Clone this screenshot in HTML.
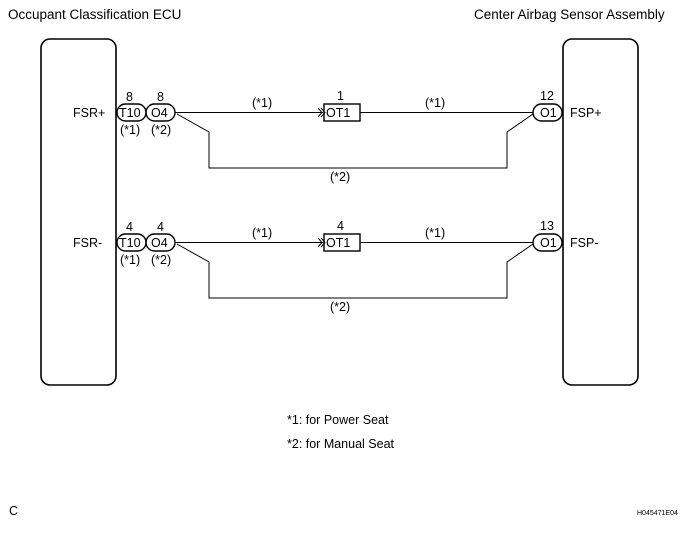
<!DOCTYPE html>
<html><head><style>
body{margin:0;background:#fff}
svg text{font-family:"Liberation Sans",sans-serif;fill:#000}
</style></head><body>
<svg width="685" height="528" viewBox="0 0 685 528" xmlns="http://www.w3.org/2000/svg">
<text x="8" y="19" font-size="13.5">Occupant Classification ECU</text>
<text x="474" y="19" font-size="13.5">Center Airbag Sensor Assembly</text>
<rect x="41" y="39" width="75" height="346" rx="9" fill="none" stroke="#000" stroke-width="1.6"/>
<rect x="563" y="39" width="75" height="346" rx="9" fill="none" stroke="#000" stroke-width="1.6"/>
<g font-size="12.5" stroke="none">
<text x="73" y="117">FSR+</text>
<text x="126" y="101">8</text><text x="157" y="101">8</text>
<rect x="117" y="104" width="29" height="17" rx="8.5" fill="none" stroke="#000" stroke-width="1.4"/>
<rect x="146" y="104" width="29" height="17" rx="8.5" fill="none" stroke="#000" stroke-width="1.4"/>
<text x="119" y="117">T10</text><text x="151" y="117">O4</text>
<text x="120" y="134">(*1)</text><text x="151" y="134">(*2)</text>
<text x="252" y="107">(*1)</text>
<text x="337" y="100">1</text>
<rect x="324" y="104" width="36" height="17" fill="none" stroke="#000" stroke-width="1.4"/>
<text x="326" y="117">OT1</text>
<text x="425" y="107">(*1)</text>
<text x="330" y="181">(*2)</text>
<text x="540" y="100">12</text>
<rect x="533" y="104" width="29" height="17" rx="8.5" fill="none" stroke="#000" stroke-width="1.4"/>
<text x="540" y="117">O1</text>
<text x="570" y="117">FSP+</text>
<text x="73" y="247">FSR-</text>
<text x="126" y="231">4</text><text x="157" y="231">4</text>
<rect x="117" y="234" width="29" height="17" rx="8.5" fill="none" stroke="#000" stroke-width="1.4"/>
<rect x="146" y="234" width="29" height="17" rx="8.5" fill="none" stroke="#000" stroke-width="1.4"/>
<text x="119" y="247">T10</text><text x="151" y="247">O4</text>
<text x="120" y="264">(*1)</text><text x="151" y="264">(*2)</text>
<text x="252" y="237">(*1)</text>
<text x="337" y="230">4</text>
<rect x="324" y="234" width="36" height="17" fill="none" stroke="#000" stroke-width="1.4"/>
<text x="326" y="247">OT1</text>
<text x="425" y="237">(*1)</text>
<text x="330" y="311">(*2)</text>
<text x="540" y="230">13</text>
<rect x="533" y="234" width="29" height="17" rx="8.5" fill="none" stroke="#000" stroke-width="1.4"/>
<text x="540" y="247">O1</text>
<text x="570" y="247">FSP-</text>
<text x="287" y="424">*1: for Power Seat</text>
<text x="287" y="448">*2: for Manual Seat</text>
<text x="9" y="515">C</text>
<text x="637" y="515" font-size="7">H045471E04</text>
</g>
<g fill="none" stroke="#000" stroke-width="1">
<path d="M175 112.5H323 M360 112.5H533"/>
<path d="M177 114L209 132V168H507V132L533 114"/>
<path d="M318 108l4 4.5-4 4.5 M321 108l4 4.5-4 4.5"/>
<path d="M175 242.5H323 M360 242.5H533"/>
<path d="M177 244L209 262V298H507V262L533 244"/>
<path d="M318 238l4 4.5-4 4.5 M321 238l4 4.5-4 4.5"/>
</g>
</svg>
</body></html>
